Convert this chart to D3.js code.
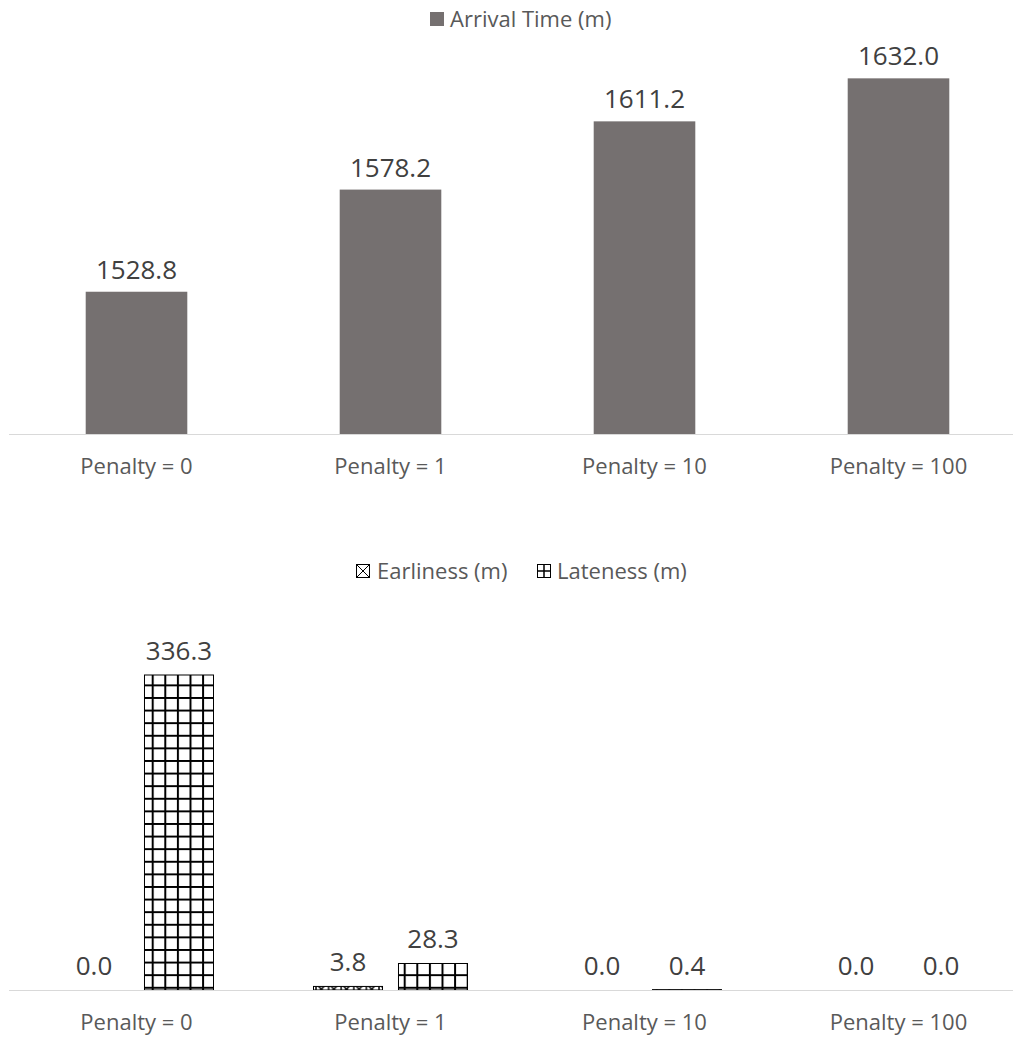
<!DOCTYPE html>
<meta charset="utf-8">
<style>
body { margin: 0; background: #fff; }
text { font-family: "Open Sans", sans-serif; }
.cat { fill: #595959; font-size: 22px; }
.val { fill: #404040; font-size: 26px; }
.leg { fill: #595959; font-size: 22px; }
.axis { stroke: #d9d9d9; stroke-width: 1px; }
</style>
<body></body>
<script src="https://d3js.org/d3.v7.min.js"></script>
<script>

var categories = ["Penalty = 0", "Penalty = 1", "Penalty = 10", "Penalty = 100"];
var arrival = [1528.8, 1578.2, 1611.2, 1632.0];
var earliness = [0.0, 3.8, 0.0, 0.0];
var lateness = [336.3, 28.3, 0.4, 0.0];

var width = 1013, height = 1038;

var svg = d3.select("body").append("svg")
    .attr("width", width)
    .attr("height", height);

var defs = svg.append("defs");

// big grid for lateness
var grid = defs.append("pattern")
    .attr("id", "grid")
    .attr("patternUnits", "userSpaceOnUse")
    .attr("x", 0.5).attr("y", 4)
    .attr("width", 12.6).attr("height", 12.6);
grid.append("rect").attr("width", 12.6).attr("height", 12.6).attr("fill", "#fff");
grid.append("path").attr("d", "M1,0V12.6M0,1H12.6")
    .attr("stroke", "#000").attr("stroke-width", 2);

// diagonal cross for earliness
var cross = defs.append("pattern")
    .attr("id", "cross")
    .attr("patternUnits", "userSpaceOnUse")
    .attr("width", 12.6).attr("height", 12.6);
cross.append("rect").attr("width", 12.6).attr("height", 12.6).attr("fill", "#fff");
cross.append("path").attr("d", "M0,0L12.6,12.6M12.6,0L0,12.6M1,0V12.6")
    .attr("stroke", "#000").attr("stroke-width", 1.5);

var x = d3.scaleBand()
    .domain(categories)
    .range([9.5, 1025.5])
    .paddingInner(0.6)
    .paddingOuter(0.3);

// ---- top chart
var y1 = d3.scaleLinear().domain([1460, 1640]).range([434, 61.8]);

var gTop = svg.append("g");

var lg1 = gTop.append("g");
lg1.append("rect").attr("x", 430).attr("y", 12).attr("width", 14).attr("height", 14).attr("fill", "#757070");
lg1.append("text").attr("class", "leg").attr("x", 450).attr("y", 27).text("Arrival Time (m)");

gTop.selectAll("rect.bar")
  .data(arrival)
  .enter().append("rect")
    .attr("class", "bar")
    .attr("x", function(d, i) { return x(categories[i]); })
    .attr("width", x.bandwidth())
    .attr("y", function(d) { return y1(d); })
    .attr("height", function(d) { return y1(1460) - y1(d); })
    .attr("fill", "#757070");

gTop.selectAll("text.val")
  .data(arrival)
  .enter().append("text")
    .attr("class", "val")
    .attr("text-anchor", "middle")
    .attr("x", function(d, i) { return x(categories[i]) + x.bandwidth() / 2; })
    .attr("y", function(d) { return y1(d) - 13; })
    .text(function(d) { return d.toFixed(1); });

gTop.append("line").attr("class", "axis")
    .attr("x1", 9).attr("x2", width).attr("y1", 434.5).attr("y2", 434.5);

gTop.selectAll("text.cat")
  .data(categories)
  .enter().append("text")
    .attr("class", "cat")
    .attr("text-anchor", "middle")
    .attr("x", function(d) { return x(d) + x.bandwidth() / 2; })
    .attr("y", 474)
    .text(function(d) { return d; });

// ---- bottom chart
var y2 = d3.scaleLinear().domain([0, 336.3]).range([990, 675]);
var sub = d3.scaleBand().domain(["e", "l"]).range([-77, 77]).paddingInner(0.188);

var gBot = svg.append("g");

var lg2 = gBot.append("g");
lg2.append("rect").attr("x", 356.5).attr("y", 564.5).attr("width", 13).attr("height", 13)
    .attr("fill", "#fff").attr("stroke", "#000");
lg2.append("path").attr("d", "M356.5,564.5L369.5,577.5M369.5,564.5L356.5,577.5")
    .attr("stroke", "#000").attr("stroke-width", 1);
lg2.append("text").attr("class", "leg").attr("x", 377).attr("y", 579).text("Earliness (m)");
lg2.append("rect").attr("x", 537.5).attr("y", 564.5).attr("width", 13).attr("height", 13)
    .attr("fill", "#fff").attr("stroke", "#000");
lg2.append("path").attr("d", "M544,564.5V577.5M537.5,571H550.5")
    .attr("stroke", "#000").attr("stroke-width", 1.5);
lg2.append("text").attr("class", "leg").attr("x", 557).attr("y", 579).text("Lateness (m)");

var series = [
  { key: "e", values: earliness, fill: "url(#cross)" },
  { key: "l", values: lateness, fill: "url(#grid)" }
];

series.forEach(function(s) {
  var cx = function(i) { return x(categories[i]) + x.bandwidth() / 2 + sub(s.key); };
  var rows = s.values.map(function(d, i) { return { v: d, i: i }; })
      .filter(function(d) { return d.v > 0; });

  gBot.selectAll("rect.b" + s.key)
    .data(rows)
    .enter().append("rect")
      .attr("x", function(d) { return cx(d.i); })
      .attr("width", sub.bandwidth())
      .attr("y", function(d) { return y2(d.v); })
      .attr("height", function(d) { return y2(0) - y2(d.v); })
      .attr("fill", s.fill)
      .attr("stroke", "#000")
      .attr("stroke-width", 1);

  gBot.selectAll("text.v" + s.key)
    .data(s.values)
    .enter().append("text")
      .attr("class", "val")
      .attr("text-anchor", "middle")
      .attr("x", function(d, i) { return cx(i) + sub.bandwidth() / 2; })
      .attr("y", function(d) { return y2(d) - 15; })
      .text(function(d) { return d.toFixed(1); });
});

gBot.append("line").attr("class", "axis")
    .attr("x1", 9).attr("x2", width).attr("y1", 990.5).attr("y2", 990.5);

gBot.selectAll("text.cat")
  .data(categories)
  .enter().append("text")
    .attr("class", "cat")
    .attr("text-anchor", "middle")
    .attr("x", function(d) { return x(d) + x.bandwidth() / 2; })
    .attr("y", 1030)
    .text(function(d) { return d; });

</script>
